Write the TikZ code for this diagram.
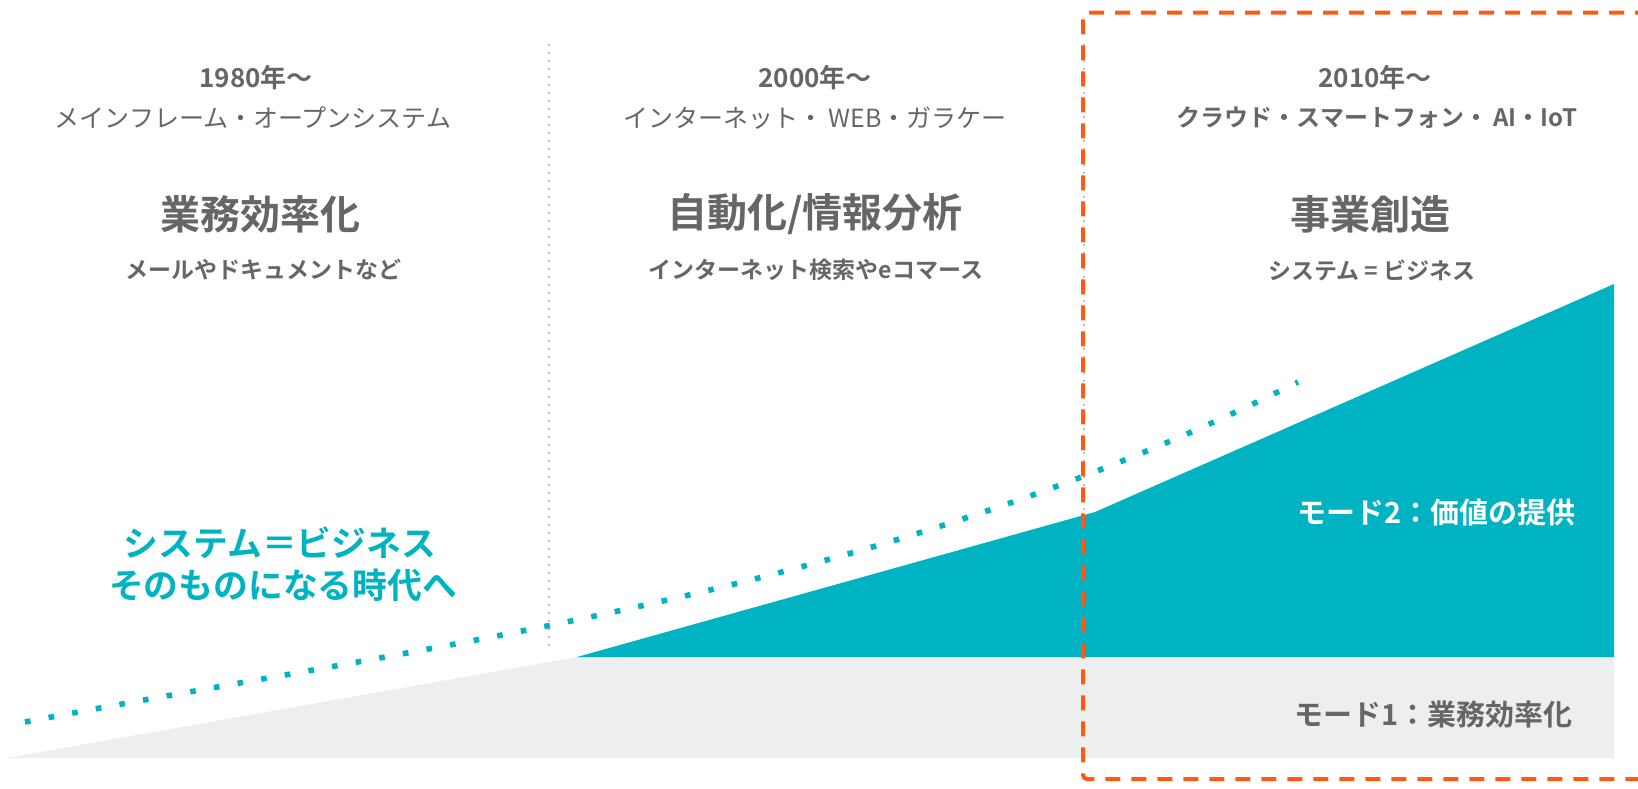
\documentclass[tikz,border=0pt]{standalone}
\usepackage{fontspec}
\setmainfont{Noto Sans CJK JP}[BoldFont={Noto Sans CJK JP Bold}]
\usepackage{xcolor}
\usepackage{tikz}
\usetikzlibrary{calc}

\definecolor{modeteal}{HTML}{00B3C3}
\definecolor{textgray}{HTML}{666666}
\definecolor{bandgray}{HTML}{EDEEEE}
\definecolor{frameorange}{HTML}{FF5A14}

\begin{document}
\begin{tikzpicture}[
        x=0.5pt, y=-0.5pt,
        yearlabel/.style={font=\bfseries\fontsize{13}{15}\selectfont, text=textgray, inner sep=0pt},
        eralabel/.style={font=\fontsize{12.5}{15}\selectfont, text=textgray, inner sep=0pt},
        themelabel/.style={font=\bfseries\fontsize{20}{24}\selectfont, text=textgray, inner sep=0pt},
        desclabel/.style={font=\bfseries\fontsize{11.5}{14}\selectfont, text=textgray, inner sep=0pt},
        slogan/.style={font=\bfseries\fontsize{17.4}{20}\selectfont, text=modeteal, inner sep=0pt},
        modelabel/.style={font=\bfseries\fontsize{14.5}{18}\selectfont, anchor=east, inner sep=0pt},
        divider/.style={gray!50, line width=1pt, dash pattern=on 1pt off 3pt},
        trend/.style={modeteal, line width=2.8pt, dash pattern=on 2.8pt off 9.2pt},
        frame/.style={frameorange, line width=2pt, dash pattern=on 7.5pt off 5.5pt, rounded corners=2pt}
    ]
        \useasboundingbox (0,0) rectangle (1638,788);

        % mode 1 and mode 2 areas
        \fill[bandgray] (7,758) -- (577,657) -- (1614,657) -- (1614,758) -- cycle;
        \fill[modeteal] (577,657) -- (1095,512) -- (1614,284) -- (1614,657) -- cycle;

        % era dividers
        \draw[divider] (549,44) -- (549,647);
        \draw[divider] (1084,44) -- (1084,512);

        % trend curve
        \draw[trend] (25,722) .. controls (449,641) and (872,595) .. (1298,382);

        % current era frame
        \draw[frame] (1650,12.5) -- (1083,12.5) -- (1083,779) -- (1650,779);

        % 1980
        \node[yearlabel] (year1) at (256,78) {1980年～};
        \node[eralabel] (era1) at (253,118) {メインフレーム・オープンシステム};
        \node[themelabel] (theme1) at (260,214) {業務効率化};
        \node[desclabel] (desc1) at (263,270) {メールやドキュメントなど};

        % 2000
        \node[yearlabel] (year2) at (815,78) {2000年～};
        \node[eralabel] (era2) at (815,118) {インターネット・ WEB・ガラケー};
        \node[themelabel] (theme2) at (815,214) {自動化/情報分析};
        \node[desclabel] (desc2) at (816,270) {インターネット検索やeコマース};

        % 2010
        \node[yearlabel] (year3) at (1375,78) {2010年～};
        \node[yearlabel, font=\bfseries\fontsize{12}{15}\selectfont] (era3) at (1377,118) {クラウド・スマートフォン・ AI・IoT};
        \node[themelabel] (theme3) at (1370,214) {事業創造};
        \node[desclabel] (desc3) at (1372,270) {システム = ビジネス};

        % message
        \node[slogan] (msg1) at (280,543) {システム＝ビジネス};
        \node[slogan] (msg2) at (283,585) {そのものになる時代へ};

        % mode labels
        \node[modelabel, text=white] (mode2) at (1576,512) {モード2：価値の提供};
        \node[modelabel, text=textgray] (mode1) at (1573,715) {モード1：業務効率化};
    \end{tikzpicture}
\end{document}
